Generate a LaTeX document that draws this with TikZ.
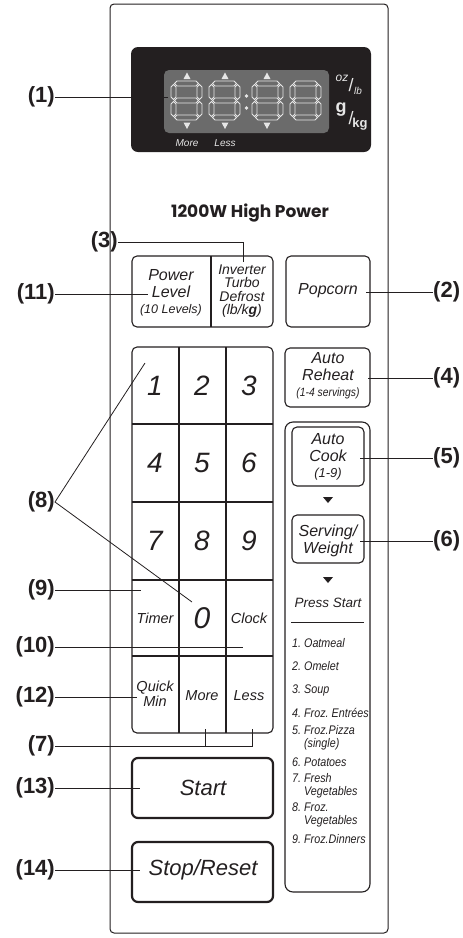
\documentclass[tikz,border=0pt]{standalone}
\usepackage{fontspec}
\setmainfont{Liberation Sans}
\newfontfamily\brandfont{Poppins}
\newfontfamily\narrowfont{Liberation Sans}[FakeStretch=0.86]
\usetikzlibrary{positioning}
\definecolor{inkline}{HTML}{231F20}
\definecolor{dispblack}{HTML}{231F20}
\definecolor{dispgrey}{HTML}{6B6B6B}
\definecolor{seglight}{HTML}{E6E6E6}
\newcommand{\setfs}[2]{\fontsize{#1}{#2}\selectfont}
\frenchspacing
% one seven-segment digit, top-left corner at (#1,#2)
\newcommand{\segdigit}[2]{%
  \begin{scope}[shift={(#1,#2)}]
    \foreach \sy in {2.5,19.5,36.5}
      \draw[seg] (3.5,\sy) -- (6,\sy-2.5) -- (25,\sy-2.5) -- (27.5,\sy) -- (25,\sy+2.5) -- (6,\sy+2.5) -- cycle;
    \foreach \sx in {2.5,28.5}
      \foreach \sa/\sb in {3.5/18.5,20.5/35.5}
        \draw[seg] (\sx,\sa) -- (\sx+2.5,\sa+2.5) -- (\sx+2.5,\sb-2.5) -- (\sx,\sb) -- (\sx-2.5,\sb-2.5) -- (\sx-2.5,\sa+2.5) -- cycle;
  \end{scope}}
\begin{document}
\begin{tikzpicture}[x=1pt,y=-1pt,
    every node/.style={inner sep=0pt, text=inkline},
    callout/.style={draw=inkline, line width=0.8pt},
    tag/.style={font=\setfs{22}{24}\bfseries},
    key/.style={draw=inkline, line width=1.1pt, rounded corners=5pt},
    bigkey/.style={draw=inkline, line width=2.2pt, rounded corners=6pt},
    keytxt/.style={font=\setfs{16}{16.5}\itshape, align=center},
    smalltxt/.style={font=\setfs{14.5}{15}\itshape, align=center},
    digit/.style={font=\setfs{28}{28}\itshape},
    seg/.style={draw=seglight, fill=dispgrey, line width=0.9pt},
    disptxt/.style={text=seglight, font=\setfs{10}{10}\itshape},
    item/.style={anchor=west, font=\narrowfont\setfs{12.5}{13}\itshape, align=left}
]
\useasboundingbox (0,0) rectangle (463,938);

% Panel
\draw[inkline, line width=1pt, rounded corners=4pt] (110,4) rectangle (388,933);

% Display
\fill[dispblack, rounded corners=7pt] (131,47) rectangle (371,152);
\fill[dispgrey, rounded corners=5pt] (164,70) rectangle (329,133);
\segdigit{171}{81}
\segdigit{209}{81}
\segdigit{252}{81}
\segdigit{290}{81}
\fill[seglight] (246.5,96) circle (1.8);
\fill[seglight] (246.5,108) circle (1.8);
\foreach \tx in {187,225,267} {
  \fill[seglight] (\tx-3.5,79) -- (\tx+3.5,79) -- (\tx,72.5) -- cycle;
  \fill[seglight] (\tx-3.5,122.5) -- (\tx+3.5,122.5) -- (\tx,129) -- cycle;
}
\node[disptxt] (dmore) at (187,143) {More};
\node[disptxt] (dless) at (225,143) {Less};
\node[text=seglight, font=\setfs{12}{12}\itshape] (doz) at (342,78) {oz};
\node[text=seglight, font=\setfs{18}{18}] (dsl1) at (351,85) {/};
\node[text=seglight, font=\setfs{10}{10}\itshape] (dlb) at (358,91) {lb};
\node[text=seglight, font=\setfs{18}{18}\bfseries] (dg) at (341,110) {g};
\node[text=seglight, font=\setfs{18}{18}] (dsl2) at (351,118) {/};
\node[text=seglight, font=\setfs{13}{13}\bfseries] (dkg) at (360,124) {kg};

% Brand line
\node[font=\brandfont\bfseries\setfs{17}{18}] (brand) at (250,213) {1200W High Power};

% Top row
\draw[key] (132,256) rectangle (273,327);
\draw[inkline, line width=1.1pt] (211,256) -- (211,327);
\node[keytxt] (power) at (171,293) {Power\\Level\\{\setfs{12.5}{14}(10 Levels)}};
\node[font=\setfs{14}{13.5}\itshape, align=center] (defrost) at (242,291) {Inverter\\Turbo\\Defrost\\(lb/k\textbf{g})};
\draw[key] (286,256) rectangle (370,327);
\node[keytxt] (popcorn) at (328,291) {Popcorn};

% Auto reheat
\draw[key] (285,348) rectangle (370,407);
\node[keytxt] (reheat) at (328,376) {Auto\\Reheat\\{\narrowfont\setfs{12}{13}(1-4 servings)}};

% Auto cook column
\draw[inkline, line width=1.1pt, rounded corners=8pt] (285,422) rectangle (370,892);
\draw[key] (292,427) rectangle (364,486);
\node[keytxt] (cook) at (328,457) {Auto\\Cook\\{\setfs{13}{15}(1-9)}};
\fill[inkline] (323,497) -- (333,497) -- (328,503) -- cycle;
\draw[key] (292,515) rectangle (364,563);
\node[keytxt] (serving) at (328,541) {Serving/\\Weight};
\fill[inkline] (323,577) -- (333,577) -- (328,583) -- cycle;
\node[font=\setfs{13.5}{14}\itshape] (press) at (328,603) {Press Start};
\draw[inkline, line width=1pt] (291,622) -- (364,622);
\node[item] (item1) at (292,643) {1. Oatmeal};
\node[item] (item2) at (292,666) {2. Omelet};
\node[item] (item3) at (292,690) {3. Soup};
\node[item] (item4) at (292,713) {4. Froz. Entrées};
\node[item] (item5) at (292,738) {5. Froz.Pizza\\\phantom{5. }(single)};
\node[item] (item6) at (292,762) {6. Potatoes};
\node[item] (item7) at (292,786) {7. Fresh\\\phantom{7. }Vegetables};
\node[item] (item8) at (292,815) {8. Froz.\\\phantom{8. }Vegetables};
\node[item] (item9) at (292,839) {9. Froz.Dinners};

% Keypad
\draw[key] (132,347) rectangle (273,733);
\foreach \kx in {179,226}
  \draw[inkline, line width=1.1pt] (\kx,347) -- (\kx,733);
\foreach \ky in {424,502,580,656}
  \draw[inkline, line width=1.1pt] (132,\ky) -- (273,\ky);
\foreach \n/\kx/\ky in {1/155/386,2/202/386,3/249/386,4/155/463,5/202/463,6/249/463,7/155/541,8/202/541,9/249/541}
  \node[digit] (k\n) at (\kx,\ky) {\n};
\node[smalltxt] (timer) at (155,618) {Timer};
\node[digit, font=\setfs{30}{30}\itshape] (k0) at (202,618) {0};
\node[smalltxt] (clock) at (249,618) {Clock};
\node[smalltxt] (quick) at (155,694) {Quick\\Min};
\node[smalltxt] (more) at (202,696) {More};
\node[smalltxt] (less) at (249,696) {Less};

% Start / Stop
\draw[bigkey] (132,758) rectangle (273,818);
\node[font=\setfs{22}{22}\itshape] (start) at (203,788) {Start};
\draw[bigkey] (132,842) rectangle (273,902);
\node[font=\setfs{22}{22}\itshape] (stop) at (203,870) {Stop/Reset};

% Callout labels
\node[tag, anchor=east] (c1) at (55,97) {(1)};
\node[tag, anchor=east] (c3) at (118,242) {(3)};
\node[tag, anchor=east] (c11) at (55,294) {(11)};
\node[tag, anchor=west] (c2) at (433,292) {(2)};
\node[tag, anchor=west] (c4) at (433,378) {(4)};
\node[tag, anchor=west] (c5) at (433,458) {(5)};
\node[tag, anchor=west] (c6) at (433,541) {(6)};
\node[tag, anchor=east] (c8) at (55,502) {(8)};
\node[tag, anchor=east] (c9) at (55,590) {(9)};
\node[tag, anchor=east] (c10) at (55,647) {(10)};
\node[tag, anchor=east] (c12) at (55,697) {(12)};
\node[tag, anchor=east] (c7) at (55,746) {(7)};
\node[tag, anchor=east] (c13) at (55,788) {(13)};
\node[tag, anchor=east] (c14) at (55,870) {(14)};

% Callout ends
\coordinate (p1) at (168,97);
\coordinate (p3) at (243,262);
\coordinate (p11) at (148,294);
\coordinate (p2) at (366,292);
\coordinate (p4) at (368,378);
\coordinate (p5) at (360,458);
\coordinate (p6) at (360,541);
\coordinate (p8a) at (145,363);
\coordinate (p8b) at (192,602);
\coordinate (p9) at (141,590);
\coordinate (p10) at (243,647);
\coordinate (p12) at (137,697);
\coordinate (p7a) at (205,746);
\coordinate (p7b) at (252,746);
\coordinate (p7at) at (205,729);
\coordinate (p7bt) at (252,729);
\coordinate (p13) at (140,788);
\coordinate (p14) at (140,870);

% Callout lines
\draw[callout] (c1.east) -- (p1);
\draw[callout] (c3.east) -| (p3);
\draw[callout] (c11.east) -- (p11);
\draw[callout] (p2) -- (c2.west);
\draw[callout] (p4) -- (c4.west);
\draw[callout] (p5) -- (c5.west);
\draw[callout] (p6) -- (c6.west);
\draw[callout] (p8a) -- (c8.east) -- (p8b);
\draw[callout] (c9.east) -- (p9);
\draw[callout] (c10.east) -- (p10);
\draw[callout] (c12.east) -- (p12);
\draw[callout] (c7.east) -- (p7b) -- (p7bt);
\draw[callout] (p7a) -- (p7at);
\draw[callout] (c13.east) -- (p13);
\draw[callout] (c14.east) -- (p14);

\end{tikzpicture}
\end{document}
